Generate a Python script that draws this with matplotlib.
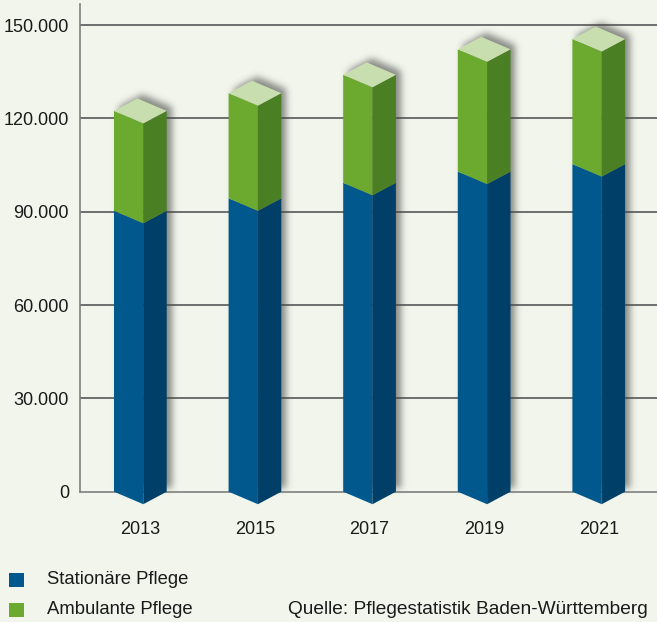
import matplotlib
matplotlib.use("Agg")
import matplotlib.pyplot as plt
from matplotlib.patches import Polygon
from matplotlib.path import Path
import numpy as np

years = ["2013", "2015", "2017", "2019", "2021"]
stationaer = [90300, 94300, 99300, 102900, 105300]
ambulant = [32100, 33800, 34700, 39300, 40200]
yticks = [0, 30000, 60000, 90000, 120000, 150000]
ytick_labels = ["0", "30.000", "60.000", "90.000", "120.000", "150.000"]
legend_labels = ["Stationäre Pflege", "Ambulante Pflege"]
source = "Quelle: Pflegestatistik Baden-Württemberg"

BG = "#F1F5EB"
BLUE_L, BLUE_R = "#00588C", "#003F67"
GREEN_L, GREEN_R, GREEN_T = "#6BAA2E", "#4B7F23", "#C8DEAE"
TXT = "#1A1A1A"

plt.rcParams['font.family'] = ['Liberation Sans', 'DejaVu Sans']

W, H = 657, 622
fig = plt.figure(figsize=(W / 100, H / 100), dpi=100, facecolor=BG)
ax_left, ax_base, ax_top = 80, 491.7, 4
ax = fig.add_axes([ax_left / W, (H - ax_base) / H, (W - ax_left) / W, (ax_base - ax_top) / H])
ax.set_facecolor("none")

px_per_unit = 114.6
front0 = 143.3
ax.set_xlim(-(front0 - ax_left) / px_per_unit, (W - front0) / px_per_unit)
px_per_val = 3.111 / 1000
ax.set_ylim(0, (ax_base - ax_top) / px_per_val)

wl = 29.3 / px_per_unit   # left face width
wr = 23.4 / px_per_unit   # right face width
dy = 12.5 / px_per_val    # diamond vertical offset

for t in yticks[1:]:
    ax.axhline(t, color="#4A4A4A", lw=1.1, zorder=0)

for s in ["top", "right"]:
    ax.spines[s].set_visible(False)
for s in ["left", "bottom"]:
    ax.spines[s].set_color("#808080")
    ax.spines[s].set_linewidth(1.2)

ax.set_yticks(yticks)
ax.set_yticklabels(ytick_labels, fontsize=13, color=TXT)
ax.tick_params(axis="y", length=0, pad=8)
ax.set_xticks([i - wl + (wl + wr) / 2 for i in range(len(years))])
ax.set_xticklabels(years, fontsize=13, color=TXT)
ax.tick_params(axis="x", length=0, pad=21)

# soft drop shadow, rasterised from the bar silhouettes
yy, xx = np.mgrid[0:H, 0:W]
pts = np.column_stack([xx.ravel() + 0.5, yy.ravel() + 0.5])
mask = np.zeros(H * W)
sh_dx, sh_dy = 5, 4
for i, (s, a) in enumerate(zip(stationaer, ambulant)):
    x0, x1 = i - wl, i + wr
    total = s + a
    sil = [(x0, 0), (x0, total), (x0 + wr, total + dy), (x1, total), (x1, 0)]
    disp = ax.transData.transform(sil) + np.array([sh_dx, sh_dy])
    mask = np.maximum(mask, Path(disp).contains_points(pts).astype(float))
mask = mask.reshape(H, W)
sigma = 3.5
r = np.arange(-12, 13)
kern = np.exp(-r ** 2 / (2 * sigma ** 2))
kern /= kern.sum()
mask = np.apply_along_axis(lambda v: np.convolve(v, kern, mode="same"), 1, mask)
mask = np.apply_along_axis(lambda v: np.convolve(v, kern, mode="same"), 0, mask)
rgba = np.zeros((H, W, 4))
rgba[..., :3] = 0.2
rgba[..., 3] = 0.55 * mask
fig.figimage(rgba, xo=0, yo=0, origin="lower", zorder=-1)

for i, (s, a) in enumerate(zip(stationaer, ambulant)):
    x0, xf, x1 = i - wl, i, i + wr
    total = s + a
    # blue
    ax.add_patch(Polygon([(x0, 0), (x0, s), (xf, s - dy), (xf, -dy)], closed=True,
                         facecolor=BLUE_L, edgecolor="none", zorder=3, clip_on=False))
    ax.add_patch(Polygon([(xf, -dy), (xf, s - dy), (x1, s), (x1, 0)], closed=True,
                         facecolor=BLUE_R, edgecolor="none", zorder=3, clip_on=False))
    # green
    ax.add_patch(Polygon([(x0, s), (x0, total), (xf, total - dy), (xf, s - dy)], closed=True,
                         facecolor=GREEN_L, edgecolor="none", zorder=3, clip_on=False))
    ax.add_patch(Polygon([(xf, s - dy), (xf, total - dy), (x1, total), (x1, s)], closed=True,
                         facecolor=GREEN_R, edgecolor="none", zorder=3, clip_on=False))
    ax.add_patch(Polygon([(x0, total), (x0 + wr, total + dy), (x1, total), (xf, total - dy)],
                         closed=True, facecolor=GREEN_T, edgecolor="none", zorder=3, clip_on=False))

# legend
for (lab, col, yc) in [(legend_labels[0], BLUE_L, 580), (legend_labels[1], GREEN_L, 610)]:
    fig.patches.append(plt.Rectangle((9 / W, (H - yc - 7) / H), 15 / W, 14 / H,
                                     transform=fig.transFigure, facecolor=col,
                                     edgecolor="none"))
    fig.text(47 / W, (H - yc) / H, lab, fontsize=13.3, color=TXT, va="center", ha="left")
fig.text(648 / W, (H - 610) / H, source, fontsize=13.8, color=TXT, va="center", ha="right")

fig.savefig("out.png", dpi=100, facecolor=BG)
